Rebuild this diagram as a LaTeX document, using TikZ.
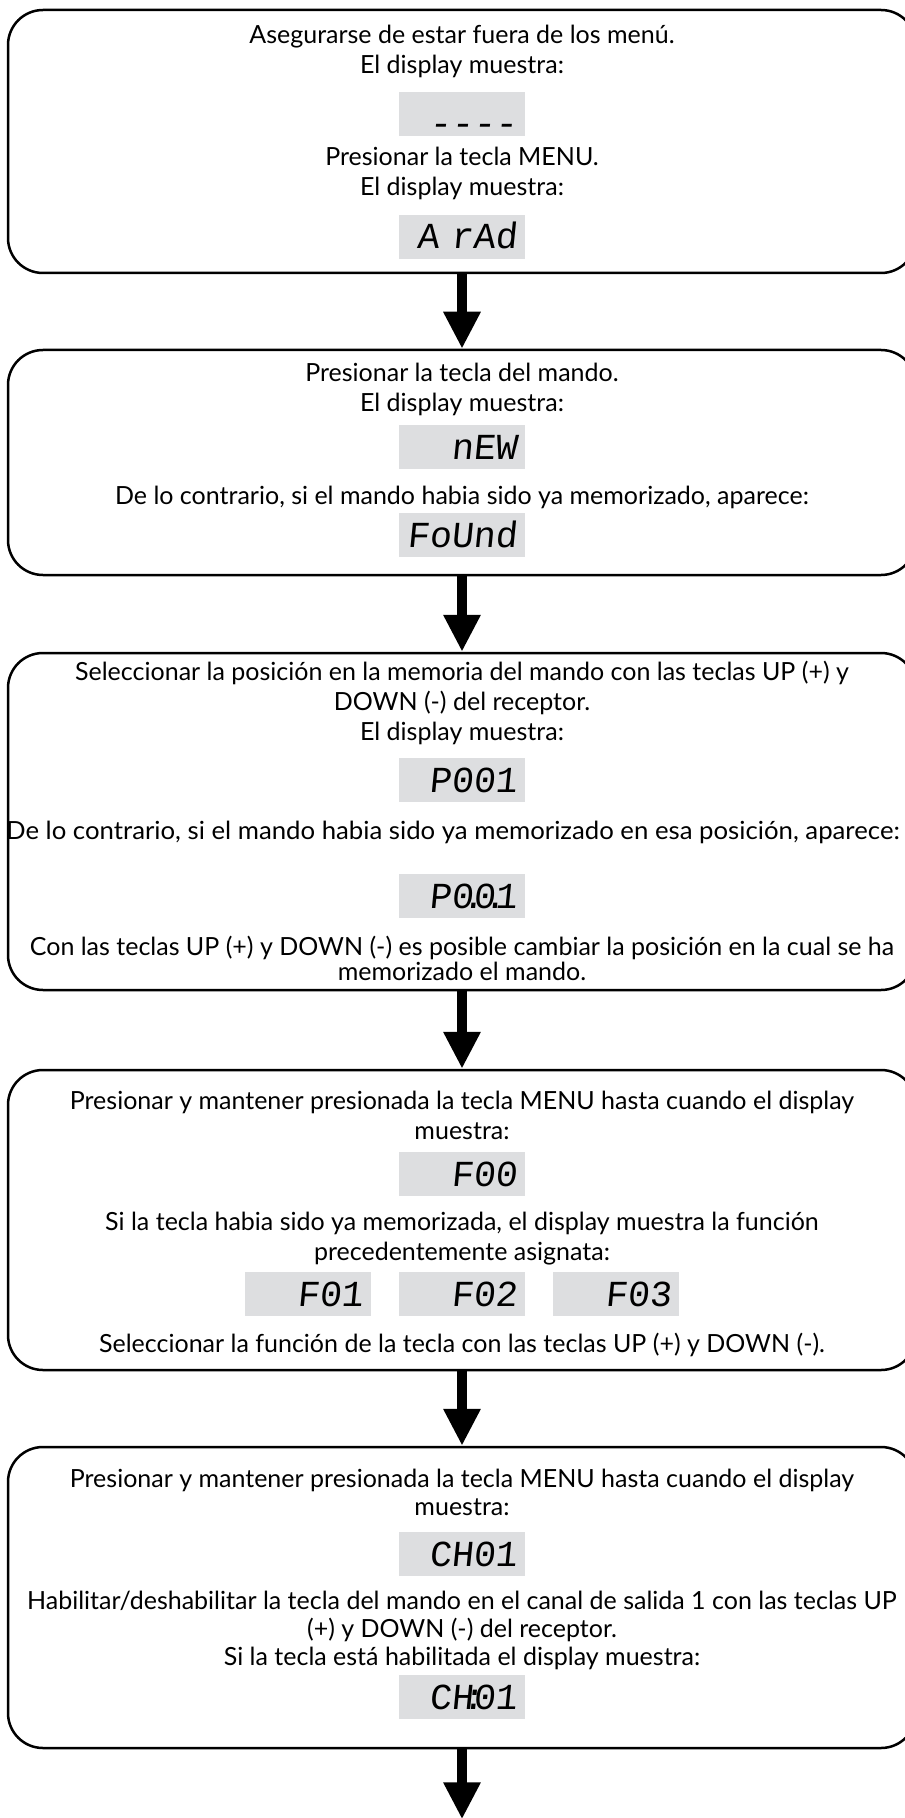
\documentclass[tikz,border=0pt]{standalone}
\usepackage{graphicx}
\usepackage{fontspec}
\setmainfont{Lato}
\newfontfamily\lcdfont[FakeSlant=0.1]{Liberation Mono}
\usetikzlibrary{shapes.geometric, arrows.meta}
\definecolor{lcdgray}{RGB}{221,222,224}
\tikzstyle{stepbox} =
[
	rectangle
	, rounded corners=17.5pt
	, minimum width=454pt
	, draw=black
	, line width=1.25pt
]
\tikzstyle{txt} =
[
	inner sep=0pt
	, text height=8pt
	, text depth=1pt
	, font=\fontsize{12.5}{14}\selectfont
]
\tikzstyle{lcd} =
[
	rectangle
	, fill=lcdgray
	, minimum width=63pt
	, minimum height=22pt
	, text width=55pt
	, inner xsep=4pt
	, inner ysep=0pt
	, align=right
	, text height=12pt
	, text depth=0pt
	, font=\lcdfont\fontsize{18.33}{20}\selectfont
]
\tikzstyle{arrow} = [line width=5pt,-{Triangle[width=17.5pt,length=18.5pt]}]

\begin{document}
\begin{tikzpicture}[node distance=15pt]
\useasboundingbox (0,0) rectangle (452pt,-909pt);

\node(t11)[txt] at (231pt,-18.5pt){Asegurarse de estar fuera de los menú.};
\node(t12)[txt, below of=t11]{El display muestra:};
\node(d11)[lcd, node distance=23.5pt, below of=t12]{\raisebox{-5pt}{----}};
\node(t13)[txt, node distance=22.5pt, below of=d11]{Presionar la tecla MENU.};
\node(t14)[txt, below of=t13]{El display muestra:};
\node(d12)[lcd, node distance=24pt, below of=t14]{A rAd};
\node(box1)[stepbox, node distance=52.25pt, below of=t11, minimum height=131.5pt]{};

\node(t21)[txt, node distance=69pt, below of=d12]{Presionar la tecla del mando.};
\node(t22)[txt, below of=t21]{El display muestra:};
\node(d21)[lcd, node distance=21pt, below of=t22]{nEW};
\node(t23)[txt, node distance=25pt, below of=d21]{De lo contrario, si el mando habia sido ya memorizado, aparece:};
\node(d22)[lcd, node distance=19pt, below of=t23]{FoUnd};
\node(box2)[stepbox, node distance=43.75pt, below of=t21, minimum height=112.5pt]{};

\node(t31)[txt, node distance=69pt, below of=d22]{Seleccionar la posición en la memoria del mando con las teclas UP (+) y};
\node(t32)[txt, below of=t31]{DOWN (-) del receptor.};
\node(t33)[txt, below of=t32]{El display muestra:};
\node(d31)[lcd, node distance=23.5pt, below of=t33]{P001};
\node(t34)[txt, node distance=26pt, below of=d31, xshift=-4.5pt]{\scalebox{1.03}[1]{De lo contrario, si el mando habia sido ya memorizado en esa posición, aparece:}};
\node(d32)[lcd, node distance=32pt, below of=d31, yshift=-26pt]{P0\makebox[0pt]{.}0\makebox[0pt]{.}1};
\node(t35)[txt, node distance=26pt, below of=d32]{Con las teclas UP (+) y DOWN (-) es posible cambiar la posición en la cual se ha};
\node(t36)[txt, node distance=12.5pt, below of=t35]{memorizado el mando.};
\node(box3)[stepbox, node distance=74.25pt, below of=t31, minimum height=168.5pt]{};

\node(t41)[txt, node distance=64.5pt, below of=t36]{Presionar y mantener presionada la tecla MENU hasta cuando el display};
\node(t42)[txt, below of=t41]{muestra:};
\node(d41)[lcd, node distance=21pt, below of=t42]{F00};
\node(t43)[txt, node distance=24.5pt, below of=d41]{Si la tecla habia sido ya memorizada, el display muestra la función};
\node(t44)[txt, below of=t43]{precedentemente asignata:};
\node(d42)[lcd, node distance=20.5pt, below of=t44]{F02};
\node(d42l)[lcd, node distance=77pt, left of=d42]{F01};
\node(d42r)[lcd, node distance=77pt, right of=d42]{F03};
\node(t45)[txt, node distance=25.5pt, below of=d42]{Seleccionar la función de la tecla con las teclas UP (+) y DOWN (-).};
\node(box4)[stepbox, node distance=59pt, below of=t41, minimum height=150pt]{};

\node(t51)[txt, node distance=67.5pt, below of=t45]{Presionar y mantener presionada la tecla MENU hasta cuando el display};
\node(t52)[txt, node distance=14pt, below of=t51]{muestra:};
\node(d51)[lcd, node distance=23pt, below of=t52]{CH01};
\node(t53)[txt, node distance=24pt, below of=d51]{Habilitar/deshabilitar la tecla del mando en el canal de salida 1 con las teclas UP};
\node(t54)[txt, node distance=14pt, below of=t53]{(+) y DOWN (-) del receptor.};
\node(t55)[txt, node distance=14pt, below of=t54]{Si la tecla está habilitada el display muestra:};
\node(d52)[lcd, node distance=19.5pt, below of=t55]{CH\makebox[0pt]{:}01};
\node(box5)[stepbox, node distance=58.75pt, below of=t51, minimum height=150.5pt]{};
\coordinate(out) at ([yshift=-35pt]box5.south);

\draw[arrow](box1)--(box2);
\draw[arrow](box2)--(box3);
\draw[arrow](box3)--(box4);
\draw[arrow](box4)--(box5);
\draw[arrow](box5)--(out);

\end{tikzpicture}
\end{document}
